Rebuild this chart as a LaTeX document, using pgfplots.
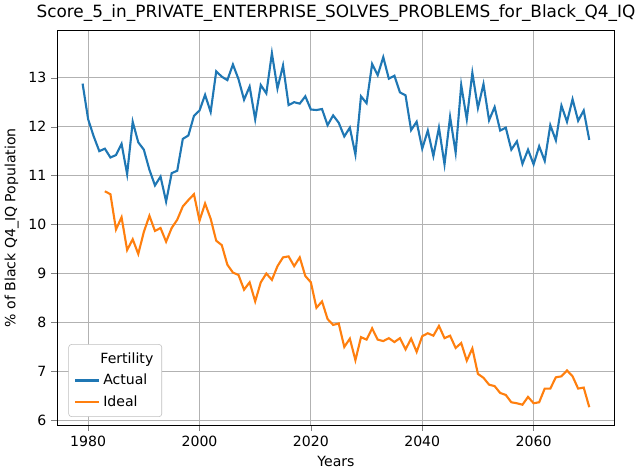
\documentclass[border=0pt]{standalone}
\usepackage{pgfplots}
\pgfplotsset{compat=1.18}
\usepackage{fontspec}
\setmainfont{DejaVu Sans}
\definecolor{mplblue}{HTML}{1F77B4}
\definecolor{mplorange}{HTML}{FF7F0E}
\begin{document}
\begin{tikzpicture}
\begin{axis}[
  scale only axis, width=396pt, height=280pt,
  xmin=1974.45, xmax=2074.55, ymin=5.91, ymax=13.96,
  xtick={1980,2000,2020,2040,2060}, ytick={6,7,8,9,10,11,12,13},
  /pgf/number format/assume math mode=true,
  xticklabel style={/pgf/number format/1000 sep={}},
  tick label style={font=\fontsize{10}{12}\selectfont},
  grid=major, grid style={gray!60, line width=0.6pt},
  tick align=outside, tick pos=left,
  title={Score\_5\_in\_PRIVATE\_ENTERPRISE\_SOLVES\_PROBLEMS\_for\_Black\_Q4\_IQ},
  title style={font=\fontsize{12}{14}\selectfont, yshift=-3pt},
  xlabel={Years}, ylabel={\% of Black Q4\_IQ Population},
  label style={font=\fontsize{10}{12}\selectfont},
  legend style={at={(0.02,0.02)}, anchor=south west, font=\fontsize{10}{12}\selectfont, draw=gray!50, rounded corners=2pt, cells={anchor=west}, row sep=2pt, inner sep=4pt},
  legend cell align=left,
]
\addlegendimage{empty legend}
\addlegendentry{\hspace{-2pt}Fertility}
\addplot[mplblue, line width=1.5pt] coordinates {
(1979,12.88)(1980,12.15)(1981,11.8)(1982,11.5)(1983,11.55)(1984,11.37)(1985,11.42)(1986,11.65)(1987,11.03)(1988,12.1)(1989,11.68)(1990,11.53)(1991,11.12)(1992,10.8)(1993,10.98)(1994,10.47)(1995,11.05)(1996,11.1)(1997,11.75)(1998,11.82)(1999,12.22)(2000,12.33)(2001,12.65)(2002,12.3)(2003,13.13)(2004,13.02)(2005,12.95)(2006,13.27)(2007,12.97)(2008,12.55)(2009,12.82)(2010,12.15)(2011,12.85)(2012,12.68)(2013,13.5)(2014,12.78)(2015,13.25)(2016,12.44)(2017,12.5)(2018,12.47)(2019,12.62)(2020,12.35)(2021,12.34)(2022,12.36)(2023,12.03)(2024,12.23)(2025,12.08)(2026,11.8)(2027,11.98)(2028,11.43)(2029,12.62)(2030,12.48)(2031,13.28)(2032,13.05)(2033,13.42)(2034,12.98)(2035,13.04)(2036,12.7)(2037,12.64)(2038,11.93)(2039,12.1)(2040,11.55)(2041,11.92)(2042,11.4)(2043,11.98)(2044,11.23)(2045,12.2)(2046,11.47)(2047,12.85)(2048,12.15)(2049,13.1)(2050,12.38)(2051,12.87)(2052,12.13)(2053,12.4)(2054,11.92)(2055,11.98)(2056,11.53)(2057,11.7)(2058,11.24)(2059,11.53)(2060,11.23)(2061,11.6)(2062,11.3)(2063,12.03)(2064,11.72)(2065,12.43)(2066,12.1)(2067,12.56)(2068,12.12)(2069,12.33)(2070,11.73)};
\addlegendentry{Actual}
\addplot[mplorange, line width=1.5pt] coordinates {
(1983,10.68)(1984,10.62)(1985,9.9)(1986,10.15)(1987,9.48)(1988,9.7)(1989,9.4)(1990,9.85)(1991,10.18)(1992,9.87)(1993,9.93)(1994,9.65)(1995,9.93)(1996,10.1)(1997,10.37)(1998,10.5)(1999,10.62)(2000,10.08)(2001,10.43)(2002,10.12)(2003,9.67)(2004,9.58)(2005,9.18)(2006,9.02)(2007,8.97)(2008,8.67)(2009,8.82)(2010,8.43)(2011,8.82)(2012,9.0)(2013,8.87)(2014,9.15)(2015,9.33)(2016,9.35)(2017,9.15)(2018,9.33)(2019,8.95)(2020,8.82)(2021,8.3)(2022,8.43)(2023,8.07)(2024,7.95)(2025,7.98)(2026,7.5)(2027,7.67)(2028,7.23)(2029,7.7)(2030,7.65)(2031,7.88)(2032,7.65)(2033,7.62)(2034,7.68)(2035,7.6)(2036,7.68)(2037,7.45)(2038,7.67)(2039,7.4)(2040,7.72)(2041,7.78)(2042,7.73)(2043,7.93)(2044,7.68)(2045,7.73)(2046,7.48)(2047,7.58)(2048,7.22)(2049,7.47)(2050,6.95)(2051,6.87)(2052,6.73)(2053,6.7)(2054,6.56)(2055,6.52)(2056,6.37)(2057,6.35)(2058,6.32)(2059,6.48)(2060,6.35)(2061,6.37)(2062,6.65)(2063,6.65)(2064,6.88)(2065,6.9)(2066,7.02)(2067,6.9)(2068,6.65)(2069,6.67)(2070,6.27)};
\addlegendentry{Ideal}
\end{axis}
\end{tikzpicture}
\end{document}
